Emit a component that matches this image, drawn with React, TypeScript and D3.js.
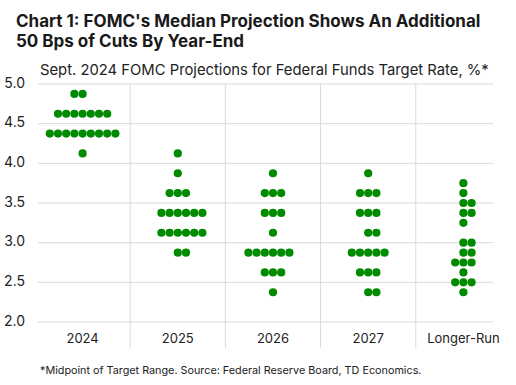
import React from "react";
import * as d3 from "d3";

const categories = ["2024", "2025", "2026", "2027", "Longer-Run"];
// projected rate values (midpoints) with count of participants at each
const rates2024 = [4.875, 4.625, 4.375, 4.125];
const counts2024 = [2, 7, 9, 1];
const rates2025 = [4.125, 3.875, 3.625, 3.375, 3.125, 2.875];
const counts2025 = [1, 1, 3, 6, 6, 2];
const rates2026 = [3.875, 3.625, 3.375, 3.125, 2.875, 2.625, 2.375];
const counts2026 = [1, 3, 3, 1, 6, 3, 1];
const rates2027 = [3.875, 3.625, 3.375, 3.125, 2.875, 2.625, 2.375];
const counts2027 = [1, 3, 3, 2, 5, 3, 2];
const ratesLR = [3.75, 3.625, 3.5, 3.375, 3.25, 3.0, 2.875, 2.75, 2.625, 2.5, 2.375];
const countsLR = [1, 1, 2, 2, 1, 2, 2, 3, 1, 3, 1];
const yTicks = [2.0, 2.5, 3.0, 3.5, 4.0, 4.5, 5.0];

const title1 = "Chart 1: FOMC's Median Projection Shows An Additional";
const title2 = "50 Bps of Cuts By Year-End";
const subtitle = "Sept. 2024 FOMC Projections for Federal Funds Target Rate, %*";
const footnote = "*Midpoint of Target Range. Source: Federal Reserve Board, TD Economics.";

const W = 516;
const H = 385;
const FONT = "Inter, 'Noto Sans', sans-serif";
const GREEN = "#008a00";
const GRID = "#d9d9d9";
const R = 4.1;
const DOT_STEP = 8.2;
// even-count rows shift direction per category
const evenShift = [-1, 1, -1, 1, 1];

export default function App() {
  const y = d3.scaleLinear().domain([2, 5]).range([322, 84]);
  const x = d3.scaleBand().domain(categories).range([35, 511]).padding(0);
  const plotLeft = 38;
  const plotRight = 493;

  const groups = [
    { rates: rates2024, counts: counts2024 },
    { rates: rates2025, counts: counts2025 },
    { rates: rates2026, counts: counts2026 },
    { rates: rates2027, counts: counts2027 },
    { rates: ratesLR, counts: countsLR },
  ];

  const dots: { cx: number; cy: number; key: string }[] = [];
  groups.forEach((g, gi) => {
    const c = (x(categories[gi]) as number) + x.bandwidth() / 2;
    g.rates.forEach((r, ri) => {
      const n = g.counts[ri];
      const shift = n % 2 === 0 ? (evenShift[gi] * DOT_STEP) / 2 : 0;
      for (let k = 0; k < n; k++) {
        const off = (k - (n - 1) / 2) * DOT_STEP + shift;
        dots.push({ cx: c + off, cy: y(r), key: `${gi}-${ri}-${k}` });
      }
    });
  });

  const separators = categories.slice(1).map((cat) => x(cat) as number);

  return (
    <svg width={W} height={H} style={{ position: "absolute", left: 0, top: 0 }}>
      <rect width={W} height={H} fill="#ffffff" />
      <text x={16} y={27} fontFamily={FONT} fontWeight={700} fontSize={17} fill="#1a1a1a">
        {title1}
      </text>
      <text x={16} y={47} fontFamily={FONT} fontWeight={700} fontSize={17} fill="#1a1a1a">
        {title2}
      </text>
      <text x={40} y={75} fontFamily={FONT} fontSize={14.8} fill="#222">
        {subtitle}
      </text>

      {yTicks.map((t) => (
        <g key={t}>
          <line x1={plotLeft} x2={plotRight} y1={y(t)} y2={y(t)} stroke={GRID} strokeWidth={1} />
          <text
            x={25}
            y={y(t)}
            textAnchor="end"
            dominantBaseline="middle"
            fontFamily={FONT}
            fontSize={14}
            fill="#222"
          >
            {t.toFixed(1)}
          </text>
        </g>
      ))}

      {separators.map((sx, i) => (
        <line key={i} x1={sx} x2={sx} y1={84} y2={348} stroke={GRID} strokeWidth={1} />
      ))}

      {categories.map((cat) => (
        <text
          key={cat}
          x={(x(cat) as number) + x.bandwidth() / 2}
          y={343}
          textAnchor="middle"
          fontFamily={FONT}
          fontSize={13}
          fill="#222"
        >
          {cat}
        </text>
      ))}

      {dots.map((d) => (
        <circle key={d.key} cx={d.cx} cy={d.cy} r={R} fill={GREEN} />
      ))}

      <text x={40} y={374} fontFamily={FONT} fontSize={10.8} fill="#222">
        {footnote}
      </text>
    </svg>
  );
}
